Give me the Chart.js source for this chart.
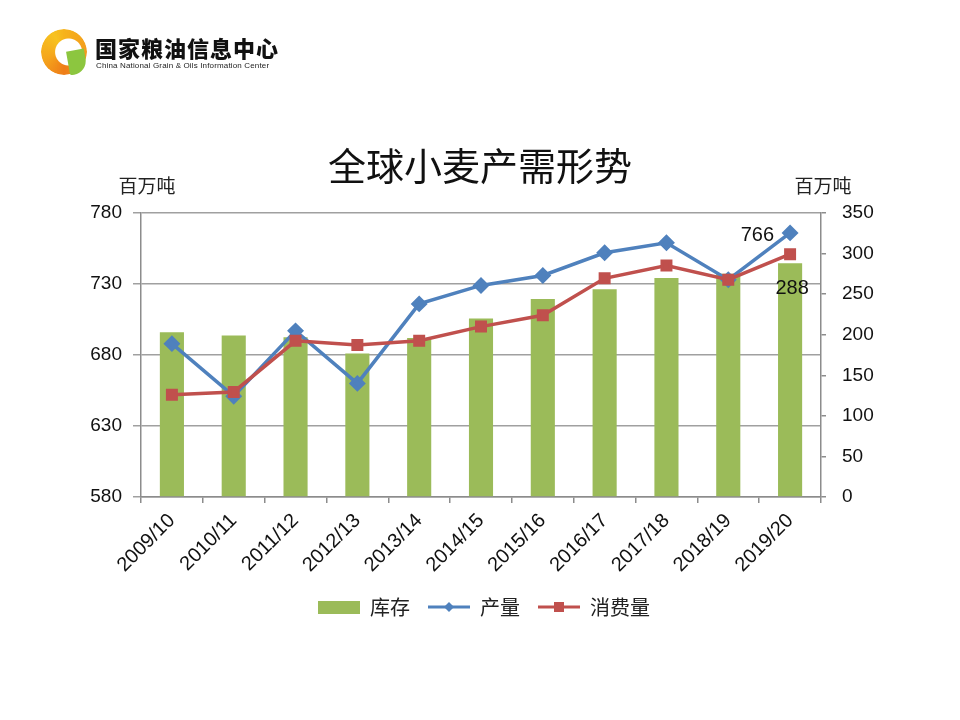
<!DOCTYPE html>
<html>
<head>
<meta charset="utf-8">
<script src="https://cdn.jsdelivr.net/npm/chart.js@4.4.1/dist/chart.umd.min.js"></script>
<style>
    html, body { margin: 0; padding: 0; background: #fff; }
    #wrap { position: relative; width: 960px; height: 720px; }
    #chart { position: absolute; left: 0; top: 0; }
    #logo-ring {
        position: absolute; left: 41px; top: 29px; width: 46px; height: 46px; border-radius: 50%;
        background: conic-gradient(from 0deg, #f6b31b 0deg, #f39a1d 90deg, #ee7d18 180deg, #f5a51c 250deg, #f7c21f 330deg, #f6b31b 360deg);
        -webkit-mask: radial-gradient(circle at 60% 50%, transparent 13px, #000 14px);
    }
    #logo-leaf {
        position: absolute; left: 68px; top: 50px; width: 18px; height: 24px;
        background: #8cc63f; border-radius: 0 0 14px 2px; transform: rotate(-10deg);
    }
    #logo-cn {
        position: absolute; left: 95px; top: 34px; font-family: "Noto Sans CJK SC"; font-weight: 900;
        font-size: 22px; letter-spacing: 1px; color: #111; line-height: 26px;
    }
    #logo-en {
        position: absolute; left: 96px; top: 61px; font-family: "Liberation Sans"; font-size: 8px;
        color: #222; line-height: 10px; letter-spacing: 0.15px;
    }
</style>
</head>
<body>
<div id="wrap">
    <canvas id="chart" width="960" height="720"></canvas>
    <div id="logo-ring"></div>
    <div id="logo-leaf"></div>
    <div id="logo-cn">国家粮油信息中心</div>
    <div id="logo-en">China National Grain &amp; Oils Information Center</div>
</div>
<script>
// 年度
var years = ['2009/10', '2010/11', '2011/12', '2012/13', '2013/14', '2014/15', '2015/16', '2016/17', '2017/18', '2018/19', '2019/20'];
// 库存（右轴，百万吨）
var stocks = [203, 199, 197, 177, 196, 220, 244, 256, 270, 275, 288];
// 产量（左轴，百万吨）
var production = [688, 651, 697, 660, 716, 729, 736, 752, 759, 733, 766];
// 消费量（左轴，百万吨）
var consumption = [652, 654, 690, 687, 690, 700, 708, 734, 743, 733, 751];
var leftTicks = [580, 630, 680, 730, 780];
var rightTicks = [0, 50, 100, 150, 200, 250, 300, 350];

const GREEN = '#9bbb59';
const BLUE = '#4f81bd';
const RED = '#c0504d';
const CJK = '"Noto Sans CJK SC", sans-serif';
const NUM = '"Liberation Sans", sans-serif';

// legend swatches drawn as small canvases
function legendIcon(kind, color) {
    const c = document.createElement('canvas');
    c.width = 50; c.height = 16;
    const g = c.getContext('2d');
    if (kind === 'bar') {
        g.fillStyle = color;
        g.fillRect(8, 2, 42, 13);
    } else {
        g.strokeStyle = color;
        g.lineWidth = 3;
        g.beginPath(); g.moveTo(8, 8); g.lineTo(50, 8); g.stroke();
        g.fillStyle = color;
        if (kind === 'diamond') {
            g.beginPath(); g.moveTo(29, 3); g.lineTo(34, 8); g.lineTo(29, 13); g.lineTo(24, 8); g.closePath(); g.fill();
        } else {
            g.fillRect(24, 3, 10, 10);
        }
    }
    return c;
}
const icons = [legendIcon('bar', GREEN), legendIcon('diamond', BLUE), legendIcon('square', RED)];

const textPlugin = {
    id: 'texts',
    afterDraw(chart) {
        const ctx = chart.ctx;
        const area = chart.chartArea;
        ctx.save();
        ctx.fillStyle = '#111';
        ctx.textAlign = 'center';
        ctx.textBaseline = 'middle';
        ctx.font = '38px ' + CJK;
        ctx.fillText('全球小麦产需形势', 480, 166);
        ctx.font = '19px ' + CJK;
        ctx.fillStyle = '#222';
        ctx.fillText('百万吨', 147, 186);
        ctx.fillText('百万吨', 823, 186);

        // value labels on the last year
        const last = years.length - 1;
        const pMeta = chart.getDatasetMeta(1).data[last];
        const bMeta = chart.getDatasetMeta(0).data[last];
        ctx.font = '20px ' + NUM;
        ctx.fillStyle = '#111';
        ctx.textAlign = 'right';
        ctx.fillText(String(production[last]), pMeta.x - 16, pMeta.y + 3);
        ctx.textAlign = 'center';
        ctx.fillText(String(stocks[last]), bMeta.x + 2, bMeta.y + 25);
        ctx.restore();
    }
};

const config = {
    data: {
        labels: years,
        datasets: [
            { type: 'bar', label: '库存', data: stocks, yAxisID: 'y1', backgroundColor: GREEN, order: 2,
              categoryPercentage: 1, barPercentage: 0.39 },
            { type: 'line', label: '产量', data: production, yAxisID: 'y', borderColor: BLUE, backgroundColor: BLUE,
              borderWidth: 3.5, pointStyle: 'rectRot', pointRadius: 6, pointBackgroundColor: BLUE, pointBorderColor: BLUE, order: 1 },
            { type: 'line', label: '消费量', data: consumption, yAxisID: 'y', borderColor: RED, backgroundColor: RED,
              borderWidth: 3.5, pointStyle: 'rect', pointRadius: 6, pointBackgroundColor: RED, pointBorderColor: RED, order: 0 }
        ]
    },
    options: {
        responsive: false,
        animation: false,
        layout: { padding: { top: 213, bottom: 93, left: 0, right: 0 } },
        plugins: {
            tooltip: { enabled: false },
            title: { display: false },
            legend: {
                position: 'bottom',
                labels: {
                    usePointStyle: true,
                    pointStyleWidth: 50,
                    padding: 10,
                    color: '#222',
                    font: { family: CJK, size: 20 },
                    sort: (a, b) => a.datasetIndex - b.datasetIndex,
                    generateLabels: (chart) => chart.data.datasets.map((ds, i) => ({
                        text: ds.label, datasetIndex: i, pointStyle: icons[i],
                        fillStyle: ds.backgroundColor, strokeStyle: ds.backgroundColor, lineWidth: 0, fontColor: '#222'
                    }))
                }
            }
        },
        scales: {
            x: {
                grid: { drawOnChartArea: false, offset: true, tickLength: 6, color: '#8c8c8c', lineWidth: 1.5 },
                border: { color: '#8c8c8c', width: 1.5 },
                ticks: { maxRotation: 45, minRotation: 45, padding: 6, color: '#111', font: { family: NUM, size: 20 } },
                afterFit: (s) => { s.height = 90; }
            },
            y: {
                position: 'left', min: 580, max: 780,
                afterBuildTicks: (s) => { s.ticks = leftTicks.map(v => ({ value: v })); },
                grid: { color: '#a0a0a0', lineWidth: 1.5, tickLength: 8 },
                border: { color: '#8c8c8c', width: 1.5 },
                ticks: { padding: 11, color: '#111', font: { family: NUM, size: 19 } },
                afterFit: (s) => { s.width = 141; }
            },
            y1: {
                position: 'right', min: 0, max: 350,
                afterBuildTicks: (s) => { s.ticks = rightTicks.map(v => ({ value: v })); },
                grid: { drawOnChartArea: false, color: '#8c8c8c', lineWidth: 1.5, tickLength: 5 },
                border: { color: '#8c8c8c', width: 1.5 },
                ticks: { padding: 16, color: '#111', font: { family: NUM, size: 19 } },
                afterFit: (s) => { s.width = 139; }
            }
        }
    },
    plugins: [textPlugin]
};

var myChart = new Chart(document.getElementById('chart'), config);
</script>
</body>
</html>
